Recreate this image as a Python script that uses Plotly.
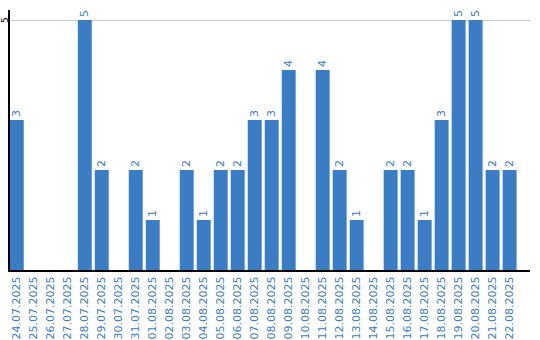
import plotly.graph_objects as go

dates = ["24.07.2025","25.07.2025","26.07.2025","27.07.2025","28.07.2025","29.07.2025",
         "30.07.2025","31.07.2025","01.08.2025","02.08.2025","03.08.2025","04.08.2025",
         "05.08.2025","06.08.2025","07.08.2025","08.08.2025","09.08.2025","10.08.2025",
         "11.08.2025","12.08.2025","13.08.2025","14.08.2025","15.08.2025","16.08.2025",
         "17.08.2025","18.08.2025","19.08.2025","20.08.2025","21.08.2025","22.08.2025"]
values = [3,0,0,0,5,2,0,2,1,0,2,1,2,2,3,3,4,0,4,2,1,0,2,2,1,3,5,5,2,2]
y_ticks = [5]

blue = "#3b7dc4"
labels = [str(v) if v > 0 else "" for v in values]

fig = go.Figure(go.Bar(
    x=list(range(len(dates))), y=values, marker_color=blue, marker_line_width=0,
    text=labels, textposition="outside", textangle=-90, cliponaxis=False,
    textfont=dict(color=blue, size=11, family="DejaVu Sans"),
))
fig.update_layout(
    width=540, height=340, margin=dict(l=10, r=10, t=10, b=70, autoexpand=False),
    plot_bgcolor="white", paper_bgcolor="white", bargap=0.18, showlegend=False,
    font=dict(family="DejaVu Sans"),
)
for t in y_ticks:
    fig.add_annotation(x=0, xref="paper", y=t, yref="y", text=str(t), showarrow=False,
                       textangle=-90, xanchor="center", yanchor="middle", xshift=-5,
                       font=dict(color="black", size=9))
fig.update_xaxes(range=[-0.4, 30.2], tickmode="array", tickvals=list(range(len(dates))),
                 ticktext=dates, tickangle=-90, tickfont=dict(color=blue, size=11),
                 showline=True, linecolor="black", linewidth=2, showgrid=False, ticks="", ticklen=0,
                 automargin=False)
fig.update_yaxes(range=[0, 5.2], tickvals=y_ticks, showticklabels=False,
                 showline=True, linecolor="black", linewidth=2,
                 showgrid=True, gridcolor="#cccccc", gridwidth=1, zeroline=False, ticks="", ticklen=0,
                 automargin=False)
fig.write_html("out.html")
